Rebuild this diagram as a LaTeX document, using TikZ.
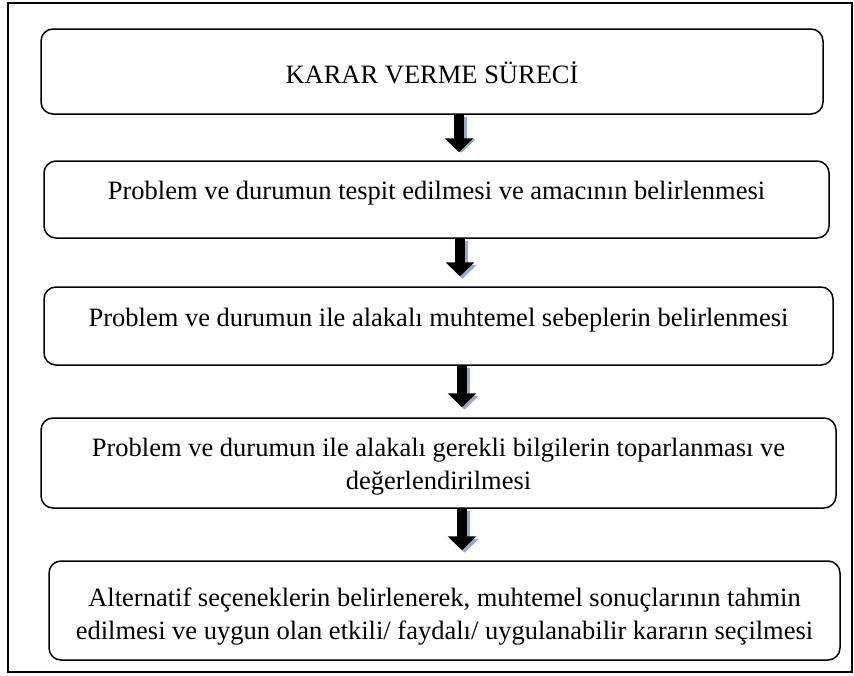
\documentclass[tikz,border=0pt]{standalone}
\usepackage{fontspec}
\setmainfont{Liberation Serif}
\usepackage{tikz}
\usetikzlibrary{positioning}
\usetikzlibrary{arrows.meta}
\usepackage{color}
\definecolor{arrowshadow}{RGB}{150,170,205}
\newcommand{\stepfont}{\fontsize{26.5}{33}\selectfont}
\tikzset{
    stepbox/.style={draw, rectangle, rounded corners=12pt, line width=1.5pt, inner sep=0pt},
    steptext/.style={align=center, inner sep=0pt, font=\stepfont},
    bigarrow/.style={line width=10pt, -{Triangle[width=28pt, length=14pt]}, shorten >=10pt},
    shadowarrow/.style={bigarrow, draw=arrowshadow, arrowshadow, transform canvas={shift={(2.5pt,-2.5pt)}}},
}
\begin{document}
\begin{tikzpicture}[x=1pt, y=1pt]
    \useasboundingbox (0,0) rectangle (854,-675);
    \draw[line width=2.2pt] (8,-3) rectangle (852,-672);

    % the five steps
    \node[stepbox, minimum width=782pt, minimum height=85pt] (b1) at (432,-71.5) {};
    \node[stepbox, minimum width=785pt, minimum height=77pt] (b2) at (436.5,-199.5) {};
    \node[stepbox, minimum width=789pt, minimum height=78pt] (b3) at (438.5,-326) {};
    \node[stepbox, minimum width=795pt, minimum height=90pt] (b4) at (438.5,-463) {};
    \node[stepbox, minimum width=791pt, minimum height=99pt] (b5) at (444.5,-610.5) {};

    \node[steptext, below=33.5pt of b1.north] (t1) {KARAR VERME SÜRECİ};
    \node[steptext, below=21pt of b2.north] (t2) {Problem ve durumun tespit edilmesi ve amacının belirlenmesi};
    \node[steptext, below=22pt of b3.north] (t3) {Problem ve durumun ile alakalı muhtemel sebeplerin belirlenmesi};
    \node[steptext, below=21pt of b4.north] (t4) {Problem ve durumun ile alakalı gerekli bilgilerin toparlanması ve\\değerlendirilmesi};
    \node[steptext, below=27pt of b5.north] (t5) {Alternatif seçeneklerin belirlenerek, muhtemel sonuçlarının tahmin\\edilmesi ve uygun olan etkili/ faydalı/ uygulanabilir kararın seçilmesi};

    % arrows with their shadow
    \draw[shadowarrow] ([xshift=27pt]b1.south) -- ([xshift=27pt]b1.south |- b2.north);
    \draw[bigarrow, shorten >=8pt] ([xshift=27pt]b1.south) -- ([xshift=27pt]b1.south |- b2.north);
    \draw[shadowarrow] ([xshift=23.5pt]b2.south) -- ([xshift=23.5pt]b2.south |- b3.north);
    \draw[bigarrow] ([xshift=23.5pt]b2.south) -- ([xshift=23.5pt]b2.south |- b3.north);
    \draw[shadowarrow] ([xshift=23.5pt]b3.south) -- ([xshift=23.5pt]b3.south |- b4.north);
    \draw[bigarrow] ([xshift=23.5pt]b3.south) -- ([xshift=23.5pt]b3.south |- b4.north);
    \draw[shadowarrow] ([xshift=23.5pt]b4.south) -- ([xshift=23.5pt]b4.south |- b5.north);
    \draw[bigarrow] ([xshift=23.5pt]b4.south) -- ([xshift=23.5pt]b4.south |- b5.north);
\end{tikzpicture}
\end{document}
